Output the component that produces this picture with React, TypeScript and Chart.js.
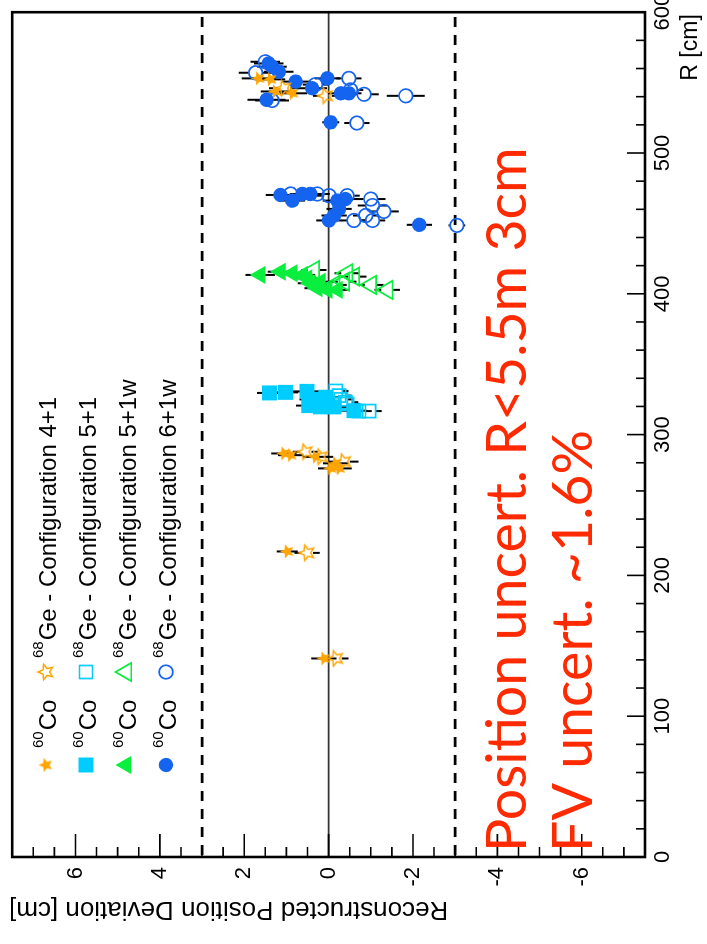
import React, { useEffect, useRef } from "react";
import { Chart, registerables } from "chart.js";

Chart.register(...registerables);

const FONT = "'Liberation Sans', Arial, Helvetica, sans-serif";
const RED_FONT = "Lato, 'Open Sans', sans-serif";

// canvas is drawn in the chart's own orientation, then turned 90° CCW onto the page
const CW = 944;
const CH = 707;

// axes
const R_MIN = 0;
const R_MAX = 600;
const DEV_MIN = -7.5;
const DEV_MAX = 7.5;
const R_TICKS = [0, 100, 200, 300, 400, 500, 600];
const DEV_TICKS = [-6, -4, -2, 0, 2, 4, 6];
const DEV_LIMITS = [-3, 3];
const X_TITLE = "R [cm]";
const Y_TITLE = "Reconstructed Position Deviation [cm]";

// legend
const CONFIGS = ["Configuration 4+1", "Configuration 5+1", "Configuration 5+1w", "Configuration 6+1w"];
const ISO_FILLED = ["60", "Co"];
const ISO_OPEN = ["68", "Ge - "];

// annotation
const NOTE_1 = "Position uncert. R<5.5m 3cm";
const NOTE_2 = "FV uncert. ~1.6%";

// 60Co - configuration 4+1 (filled stars)
const R_CO_41 = [141, 217, 286.6, 285.4, 284.2, 276, 276, 279.6, 553, 552.3, 543.7, 542.4];
const DEV_CO_41 = [0.11, 0.98, 1.06, 0.9, 0.31, -0.05, -0.25, -0.17, 1.66, 1.38, 1.26, 0.86];
const ERR_CO_41 = [0.3, 0.25, 0.3, 0.3, 0.3, 0.3, 0.3, 0.3, 0.4, 0.35, 0.35, 0.35];
// 68Ge - configuration 4+1 (open stars)
const R_GE_41 = [141, 216, 287.8, 284.2, 280.8, 546, 540.6];
const DEV_GE_41 = [-0.17, 0.51, 0.55, 0.19, -0.36, 1.06, 0.07];
const ERR_GE_41 = [0.3, 0.3, 0.3, 0.3, 0.35, 0.35, 0.3];

// 60Co - configuration 5+1 (filled squares)
const R_CO_51 = [329.6, 330, 330.7, 325, 320.6, 319.7, 319.7, 326.5, 317];
const DEV_CO_51 = [1.4, 1.02, 0.51, 0.39, 0.47, 0.19, -0.13, 0.07, -0.6];
const ERR_CO_51 = [0.3, 0.3, 0.35, 0.3, 0.3, 0.3, 0.3, 0.3, 0.3];
// 68Ge - configuration 5+1 (open squares)
const R_GE_51 = [331, 327.7, 325, 321.8, 316.7, 316.7, 323];
const DEV_GE_51 = [-0.17, -0.25, -0.29, -0.44, -0.72, -0.96, -0.4];
const ERR_GE_51 = [0.3, 0.3, 0.3, 0.3, 0.3, 0.3, 0.3];

// 60Co - configuration 5+1w (filled triangles)
const R_CO_51W = [413.4, 415.7, 414.6, 413.4, 411, 407.5, 404, 402.8, 402.8, 408.6];
const DEV_CO_51W = [1.62, 1.14, 0.86, 0.62, 0.51, 0.43, 0.27, 0.03, -0.21, 0.19];
const ERR_CO_51W = [0.35, 0.3, 0.3, 0.3, 0.3, 0.3, 0.3, 0.3, 0.3, 0.3];
// 68Ge - configuration 5+1w (open triangles)
const R_GE_51W = [416.9, 414.6, 412.2, 408.6, 406.3, 402.8, 406.3];
const DEV_GE_51W = [0.35, -0.44, -0.6, -0.36, -1.0, -1.39, -0.13];
const ERR_GE_51W = [0.3, 0.3, 0.3, 0.3, 0.3, 0.3, 0.3];

// 60Co - configuration 6+1w (filled circles)
const R_CO_61W = [470.2, 466.2, 470.9, 470.9, 466.2, 467.3, 460.3, 455.6, 452.1, 449, 563.6, 561.3, 557.7, 550.7, 546, 553, 542.4, 542.4, 537.8, 521.8];
const DEV_CO_61W = [1.14, 0.86, 0.62, 0.43, -0.21, -0.4, -0.25, -0.13, -0.01, -2.15, 1.42, 1.34, 1.18, 0.78, 0.39, 0.03, -0.29, -0.48, 1.47, -0.05];
const ERR_CO_61W = [0.35, 0.3, 0.3, 0.3, 0.35, 0.3, 0.3, 0.3, 0.3, 0.3, 0.35, 0.35, 0.35, 0.35, 0.35, 0.3, 0.3, 0.3, 0.45, 0.2];
// 68Ge - configuration 6+1w (open circles)
const R_GE_61W = [470.9, 470.9, 469.7, 469.7, 467.3, 462.7, 458.5, 455.6, 452.1, 452.1, 448.6, 564.8, 557, 553, 541.7, 540.6, 521.3, 537.3, 548.6, 544.8];
const DEV_GE_61W = [0.9, 0.27, -0.01, -0.44, -1.0, -1.04, -1.31, -0.88, -0.6, -1.04, -3.04, 1.5, 1.73, -0.48, -0.84, -1.83, -0.67, 1.34, 0.31, -0.52];
const ERR_GE_61W = [0.3, 0.3, 0.3, 0.3, 0.35, 0.35, 0.35, 0.3, 0.3, 0.3, 0.2, 0.35, 0.4, 0.3, 0.35, 0.45, 0.3, 0.4, 0.3, 0.3];

const C_STAR = "#ffa500";
const C_SQUARE = "#00ccff";
const C_TRI = "#0aee3e";
const C_CIRC = "#1464f0";

function makeStar(color: string, filled: boolean, r: number): HTMLCanvasElement {
  const c = document.createElement("canvas");
  const s = Math.ceil(r * 2 + 4);
  c.width = s;
  c.height = s;
  const ctx = c.getContext("2d")!;
  const cx = s / 2;
  const cy = s / 2;
  const ri = r * 0.45;
  ctx.beginPath();
  for (let k = 0; k < 10; k++) {
    const a = -Math.PI / 2 + (k * Math.PI) / 5;
    const rr = k % 2 === 0 ? r : ri;
    const px = cx + rr * Math.cos(a);
    const py = cy + rr * Math.sin(a);
    if (k === 0) ctx.moveTo(px, py);
    else ctx.lineTo(px, py);
  }
  ctx.closePath();
  if (filled) {
    ctx.fillStyle = color;
    ctx.fill();
  } else {
    ctx.strokeStyle = color;
    ctx.lineWidth = 1.5;
    ctx.stroke();
  }
  return c;
}

function drawMarker(ctx: CanvasRenderingContext2D, ds: any, x: number, y: number) {
  const st = ds.pointStyle;
  const r = ds.pointRadius;
  ctx.save();
  if (typeof st !== "string") {
    ctx.drawImage(st, x - st.width / 2, y - st.height / 2);
    ctx.restore();
    return;
  }
  ctx.beginPath();
  if (st === "circle") {
    ctx.arc(x, y, r, 0, Math.PI * 2);
  } else if (st === "rect") {
    const h = Math.SQRT1_2 * r;
    ctx.rect(x - h, y - h, 2 * h, 2 * h);
  } else if (st === "triangle") {
    let a = 0;
    ctx.moveTo(x + Math.sin(a) * r, y - Math.cos(a) * r);
    a += (2 * Math.PI) / 3;
    ctx.lineTo(x + Math.sin(a) * r, y - Math.cos(a) * r);
    a += (2 * Math.PI) / 3;
    ctx.lineTo(x + Math.sin(a) * r, y - Math.cos(a) * r);
    ctx.closePath();
  }
  ctx.fillStyle = ds.backgroundColor;
  ctx.fill();
  if (ds.borderWidth > 0) {
    ctx.strokeStyle = ds.borderColor;
    ctx.lineWidth = ds.borderWidth;
    ctx.stroke();
  }
  ctx.restore();
}

const decorPlugin = {
  id: "decor",
  beforeDatasetsDraw(chart: any) {
    const { ctx, chartArea: a, scales } = chart;
    const ys = scales.y;
    ctx.save();
    // zero line
    const y0 = ys.getPixelForValue(0);
    ctx.strokeStyle = "#333";
    ctx.lineWidth = 1.6;
    ctx.beginPath();
    ctx.moveTo(a.left, y0);
    ctx.lineTo(a.right, y0);
    ctx.stroke();
    // limit lines
    ctx.setLineDash([10, 8]);
    ctx.lineWidth = 2.8;
    ctx.strokeStyle = "#000";
    DEV_LIMITS.forEach((v) => {
      const y = ys.getPixelForValue(v);
      ctx.beginPath();
      ctx.moveTo(a.left + 2, y);
      ctx.lineTo(a.right - 2, y);
      ctx.stroke();
    });
    ctx.setLineDash([]);
    // error bars
    ctx.lineWidth = 2;
    ctx.strokeStyle = "#000";
    chart.data.datasets.forEach((ds: any, di: number) => {
      const meta = chart.getDatasetMeta(di);
      const gap = ds.open ? ds.gap : 0;
      ds.data.forEach((p: any, i: number) => {
        const el = meta.data[i];
        if (!el) return;
        const px = el.x;
        const py = el.y;
        const yHi = ys.getPixelForValue(p.y + p.e);
        const yLo = ys.getPixelForValue(p.y - p.e);
        ctx.beginPath();
        if (py - yHi > gap) {
          ctx.moveTo(px, yHi);
          ctx.lineTo(px, py - gap);
        }
        if (yLo - py > gap) {
          ctx.moveTo(px, py + gap);
          ctx.lineTo(px, yLo);
        }
        ctx.stroke();
      });
    });
    ctx.restore();
  },
  afterDraw(chart: any) {
    const { ctx, chartArea: a, scales } = chart;
    const xs = scales.x;
    const ys = scales.y;
    ctx.save();
    // inner ticks
    ctx.strokeStyle = "#000";
    ctx.lineWidth = 1.6;
    ctx.beginPath();
    for (let v = R_MIN; v <= R_MAX + 1e-9; v += 20) {
      const x = xs.getPixelForValue(v);
      const len = Math.abs(v % 100) < 1e-6 ? 18 : 9;
      ctx.moveTo(x, a.bottom);
      ctx.lineTo(x, a.bottom - len);
    }
    for (let v = DEV_MIN; v <= DEV_MAX + 1e-9; v += 0.5) {
      const y = ys.getPixelForValue(v);
      const major = DEV_TICKS.some((t) => Math.abs(t - v) < 1e-6);
      const len = major ? 23 : 10;
      ctx.moveTo(a.left, y);
      ctx.lineTo(a.left + len, y);
    }
    ctx.stroke();
    // frame
    ctx.lineWidth = 2.6;
    ctx.strokeRect(a.left, a.top, a.right - a.left, a.bottom - a.top);

    // axis titles
    ctx.fillStyle = "#000";
    ctx.font = `23px ${FONT}`;
    ctx.textAlign = "right";
    ctx.textBaseline = "alphabetic";
    ctx.fillText(X_TITLE, a.right - 2, 697);
    ctx.save();
    ctx.translate(42, 9);
    ctx.rotate(-Math.PI / 2);
    ctx.font = `26px ${FONT}`;
    ctx.textAlign = "right";
    ctx.fillText(Y_TITLE, 0, 0);
    ctx.restore();

    // legend
    ctx.textAlign = "left";
    const dsets = chart.data.datasets;
    CONFIGS.forEach((lab, k) => {
      const y = 46 + k * 40;
      drawMarker(ctx, dsets[2 * k], 179, y);
      ctx.fillStyle = "#000";
      ctx.font = `15px ${FONT}`;
      ctx.fillText(ISO_FILLED[0], 196, y - 3);
      const w1 = ctx.measureText(ISO_FILLED[0]).width;
      ctx.font = `24px ${FONT}`;
      ctx.fillText(ISO_FILLED[1], 196 + w1 + 1, y + 10);
      drawMarker(ctx, dsets[2 * k + 1], 272, y);
      ctx.fillStyle = "#000";
      ctx.font = `15px ${FONT}`;
      ctx.fillText(ISO_OPEN[0], 286, y - 3);
      const w2 = ctx.measureText(ISO_OPEN[0]).width;
      ctx.font = `24px ${FONT}`;
      ctx.fillText(ISO_OPEN[1] + lab, 286 + w2 + 1, y + 10);
    });

    // red annotation
    ctx.fillStyle = "#ff2a00";
    ctx.font = `100px ${RED_FONT}`;
    const wRef = ctx.measureText(NOTE_1).width;
    const size = (100 * 705) / wRef;
    ctx.font = `${size}px ${RED_FONT}`;
    ctx.fillText(NOTE_1, 92, 526);
    ctx.fillText(NOTE_2, 92, 592);
    ctx.restore();
  },
};

export default function App() {
  const ref = useRef<HTMLCanvasElement>(null);

  useEffect(() => {
    const canvas = ref.current!;
    const starF = makeStar(C_STAR, true, 7.5);
    const starO = makeStar(C_STAR, false, 8);
    const mk = (R: number[], D: number[], E: number[], style: any, color: string, open: boolean, radius: number, gap: number) => ({
      data: R.map((r, i) => ({ x: r, y: D[i], e: E[i] })),
      pointStyle: style,
      pointRadius: radius,
      backgroundColor: open ? "rgba(0,0,0,0)" : color,
      borderColor: color,
      borderWidth: open ? 1.7 : 0,
      showLine: false,
      open,
      gap,
    });
    const datasets: any[] = [
      mk(R_CO_41, DEV_CO_41, ERR_CO_41, starF, C_STAR, false, 7.5, 0),
      mk(R_GE_41, DEV_GE_41, ERR_GE_41, starO, C_STAR, true, 8, 6),
      mk(R_CO_51, DEV_CO_51, ERR_CO_51, "rect", C_SQUARE, false, 10.6, 0),
      mk(R_GE_51, DEV_GE_51, ERR_GE_51, "rect", C_SQUARE, true, 9.2, 6.5),
      mk(R_CO_51W, DEV_CO_51W, ERR_CO_51W, "triangle", C_TRI, false, 10.5, 0),
      mk(R_GE_51W, DEV_GE_51W, ERR_GE_51W, "triangle", C_TRI, true, 10.5, 6),
      mk(R_CO_61W, DEV_CO_61W, ERR_CO_61W, "circle", C_CIRC, false, 7.2, 0),
      mk(R_GE_61W, DEV_GE_61W, ERR_GE_61W, "circle", C_CIRC, true, 6.8, 7),
    ];

    const chart = new Chart(canvas, {
      type: "scatter",
      data: { datasets },
      options: {
        responsive: false,
        animation: false,
        devicePixelRatio: 1,
        events: [],
        layout: { padding: { top: 11, right: 5, left: 0, bottom: 0 } },
        plugins: { legend: { display: false }, tooltip: { enabled: false } },
        scales: {
          x: {
            type: "linear",
            position: "bottom",
            min: R_MIN,
            max: R_MAX,
            grid: { display: false, drawTicks: false },
            border: { display: false },
            ticks: {
              stepSize: 100,
              padding: 5,
              maxRotation: 0,
              minRotation: 0,
              autoSkip: false,
              color: "#000",
              font: { size: 22, family: FONT },
              callback: (v: any) => String(v),
            },
            afterBuildTicks: (s: any) => {
              s.ticks = R_TICKS.map((v) => ({ value: v }));
            },
            afterFit: (s: any) => {
              s.height = 62;
              s.paddingLeft = 0;
              s.paddingRight = 0;
            },
          },
          y: {
            type: "linear",
            min: DEV_MIN,
            max: DEV_MAX,
            grid: { display: false, drawTicks: false },
            border: { display: false },
            ticks: {
              padding: 10,
              autoSkip: false,
              color: "#000",
              font: { size: 22, family: FONT },
              callback: (v: any) => String(v),
            },
            afterBuildTicks: (s: any) => {
              s.ticks = DEV_TICKS.map((v) => ({ value: v }));
            },
            afterFit: (s: any) => {
              s.width = 87;
              s.paddingTop = 0;
              s.paddingBottom = 0;
            },
          },
        },
      } as any,
      plugins: [decorPlugin],
    });
    return () => chart.destroy();
  }, []);

  return (
    <div style={{ position: "fixed", left: 0, top: 0, width: 707, height: 944, overflow: "hidden", background: "#fff" }}>
      <div
        style={{
          position: "absolute",
          left: 0,
          top: 0,
          width: CW,
          height: CH,
          transformOrigin: "0 0",
          transform: `translate(0px, ${CW}px) rotate(-90deg)`,
        }}
      >
        <canvas ref={ref} width={CW} height={CH} style={{ width: CW, height: CH, display: "block" }} />
      </div>
    </div>
  );
}
